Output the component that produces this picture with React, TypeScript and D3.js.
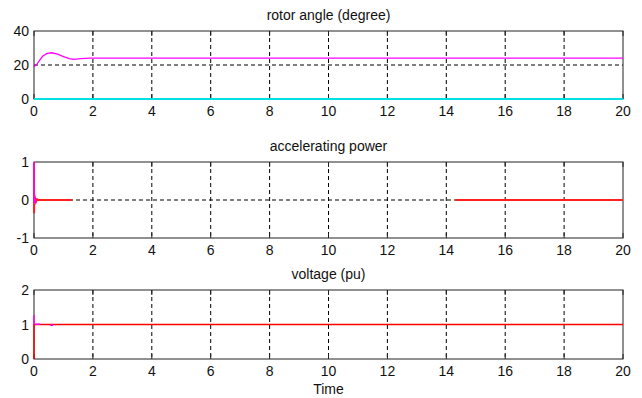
import * as d3 from 'd3'
import { useEffect, useRef } from 'react'

// time axis ticks shared by all three panels
const xTicks = [0, 2, 4, 6, 8, 10, 12, 14, 16, 18, 20]

// rotor angle (degree)
const angleT = [0, 0.1, 0.2, 0.3, 0.45, 0.6, 0.8, 1.0, 1.2, 1.35, 1.6, 1.9, 2.3, 3, 20]
const angleV = [19, 20.5, 23, 25.3, 26.8, 27.2, 26.4, 24.9, 23.7, 23.3, 23.7, 24.0, 24.1, 24.1, 24.1]
const angleRefT = [0, 20]
const angleRefV = [0, 0]

// accelerating power
const accT = [0, 0.002, 0.01, 0.02, 0.03, 0.045, 0.06, 0.08, 0.11, 0.15, 0.25, 1.3, NaN, 14.3, 20]
const accV = [1, -0.35, 0.15, -0.12, 0.09, -0.06, 0.04, -0.03, 0.015, 0, 0, 0, NaN, 0, 0]
const accBurstT = [0, 0.001, 0.01, 0.02, 0.03, 0.04, 0.06]
const accBurstV = [1, 0.3, 0.12, -0.1, 0.08, -0.04, 0.02]

// voltage (pu)
const voltT = [0, 0.001, 0.02, 20]
const voltV = [0, 1.0, 1.0, 1.0]
const voltMagT = [0, 0.001]
const voltMagV = [1.27, 1.0]
const voltBlipT = [0.05, 0.2, NaN, 0.55, 0.65]
const voltBlipV = [1.01, 1.01, NaN, 0.975, 0.975]

const panels = [
  { title: 'rotor angle (degree)', top: 31, bottom: 99, domain: [0, 40], yTicks: [0, 20, 40] },
  { title: 'accelerating power', top: 162, bottom: 238, domain: [-1, 1], yTicks: [-1, 0, 1] },
  { title: 'voltage (pu)', top: 290, bottom: 359, domain: [0, 2], yTicks: [0, 1, 2] },
]

function drawChart(el: SVGSVGElement) {
  const svg = d3.select(el)
  svg.selectAll('*').remove()
  const left = 34, right = 623
  const x = d3.scaleLinear().domain([0, 20]).range([left, right])
  const font = 'Liberation Sans, Arial, sans-serif'
  const fs = 14

  panels.forEach((p, i) => {
    const y = d3.scaleLinear().domain(p.domain).range([p.bottom, p.top])
    const g = svg.append('g')

    // grid
    g.selectAll('.vg').data(xTicks.slice(1, -1)).enter().append('line')
      .attr('x1', d => x(d)).attr('x2', d => x(d))
      .attr('y1', p.top).attr('y2', p.bottom)
      .attr('stroke', '#000').attr('stroke-dasharray', '4,3')
    g.selectAll('.hg').data(p.yTicks.slice(1, -1)).enter().append('line')
      .attr('x1', left).attr('x2', right)
      .attr('y1', d => y(d)).attr('y2', d => y(d))
      .attr('stroke', '#000').attr('stroke-dasharray', '4,3')

    // frame
    g.append('rect').attr('x', left).attr('y', p.top)
      .attr('width', right - left).attr('height', p.bottom - p.top)
      .attr('fill', 'none').attr('stroke', '#222').attr('stroke-width', 1)

    // tick marks (inward)
    g.selectAll('.xt').data(xTicks).enter().append('line')
      .attr('x1', d => x(d)).attr('x2', d => x(d))
      .attr('y1', p.bottom).attr('y2', p.bottom - 5).attr('stroke', '#222')
    g.selectAll('.xt2').data(xTicks).enter().append('line')
      .attr('x1', d => x(d)).attr('x2', d => x(d))
      .attr('y1', p.top).attr('y2', p.top + 5).attr('stroke', '#222')

    const line = (ts: number[], vs: number[]) =>
      d3.line<number>()
        .defined(k => !isNaN(ts[k]))
        .x(k => x(ts[k])).y(k => y(vs[k]))(d3.range(ts.length))

    if (i === 0) {
      g.append('path').attr('d', line(angleT, angleV)!).attr('fill', 'none')
        .attr('stroke', '#ff00ff').attr('stroke-width', 1.3)
      g.append('path').attr('d', line(angleRefT, angleRefV)!).attr('fill', 'none')
        .attr('stroke', '#00e0e0').attr('stroke-width', 2)
    } else if (i === 1) {
      g.append('path').attr('d', line(accT, accV)!).attr('fill', 'none')
        .attr('stroke', '#ff2020').attr('stroke-width', 2)
      g.append('path').attr('d', line(accBurstT, accBurstV)!).attr('fill', 'none')
        .attr('stroke', '#ff00ff').attr('stroke-width', 1.5)
    } else {
      g.append('path').attr('d', line(voltT, voltV)!).attr('fill', 'none')
        .attr('stroke', '#ff0000').attr('stroke-width', 1.5)
      g.append('path').attr('d', line(voltMagT, voltMagV)!).attr('fill', 'none')
        .attr('stroke', '#ff00ff').attr('stroke-width', 1.5)
      g.append('path').attr('d', line(voltBlipT, voltBlipV)!).attr('fill', 'none')
        .attr('stroke', '#ff00ff').attr('stroke-width', 1.5)
    }

    // tick labels
    g.selectAll('.xl').data(xTicks).enter().append('text')
      .attr('x', d => x(d)).attr('y', p.bottom + 17)
      .attr('text-anchor', 'middle').attr('font-family', font).attr('font-size', fs)
      .attr('fill', '#111').text(d => d)
    g.selectAll('.yl').data(p.yTicks).enter().append('text')
      .attr('x', 29).attr('y', d => y(d) + 5)
      .attr('text-anchor', 'end').attr('font-family', font).attr('font-size', fs)
      .attr('fill', '#111').text(d => d)

    // title
    g.append('text').attr('x', (left + right) / 2).attr('y', p.top - 11)
      .attr('text-anchor', 'middle').attr('font-family', font).attr('font-size', fs)
      .attr('fill', '#111').text(p.title)
  })

  svg.append('text').attr('x', (left + right) / 2).attr('y', 394)
    .attr('text-anchor', 'middle').attr('font-family', font).attr('font-size', fs)
    .attr('fill', '#111').text('Time')
}

export default function App() {
  const ref = useRef<SVGSVGElement>(null)
  useEffect(() => {
    if (ref.current) drawChart(ref.current)
  }, [])
  return (
    <svg ref={ref} width={642} height={398}
      style={{ position: 'absolute', left: 0, top: 0, background: '#fff' }} />
  )
}
